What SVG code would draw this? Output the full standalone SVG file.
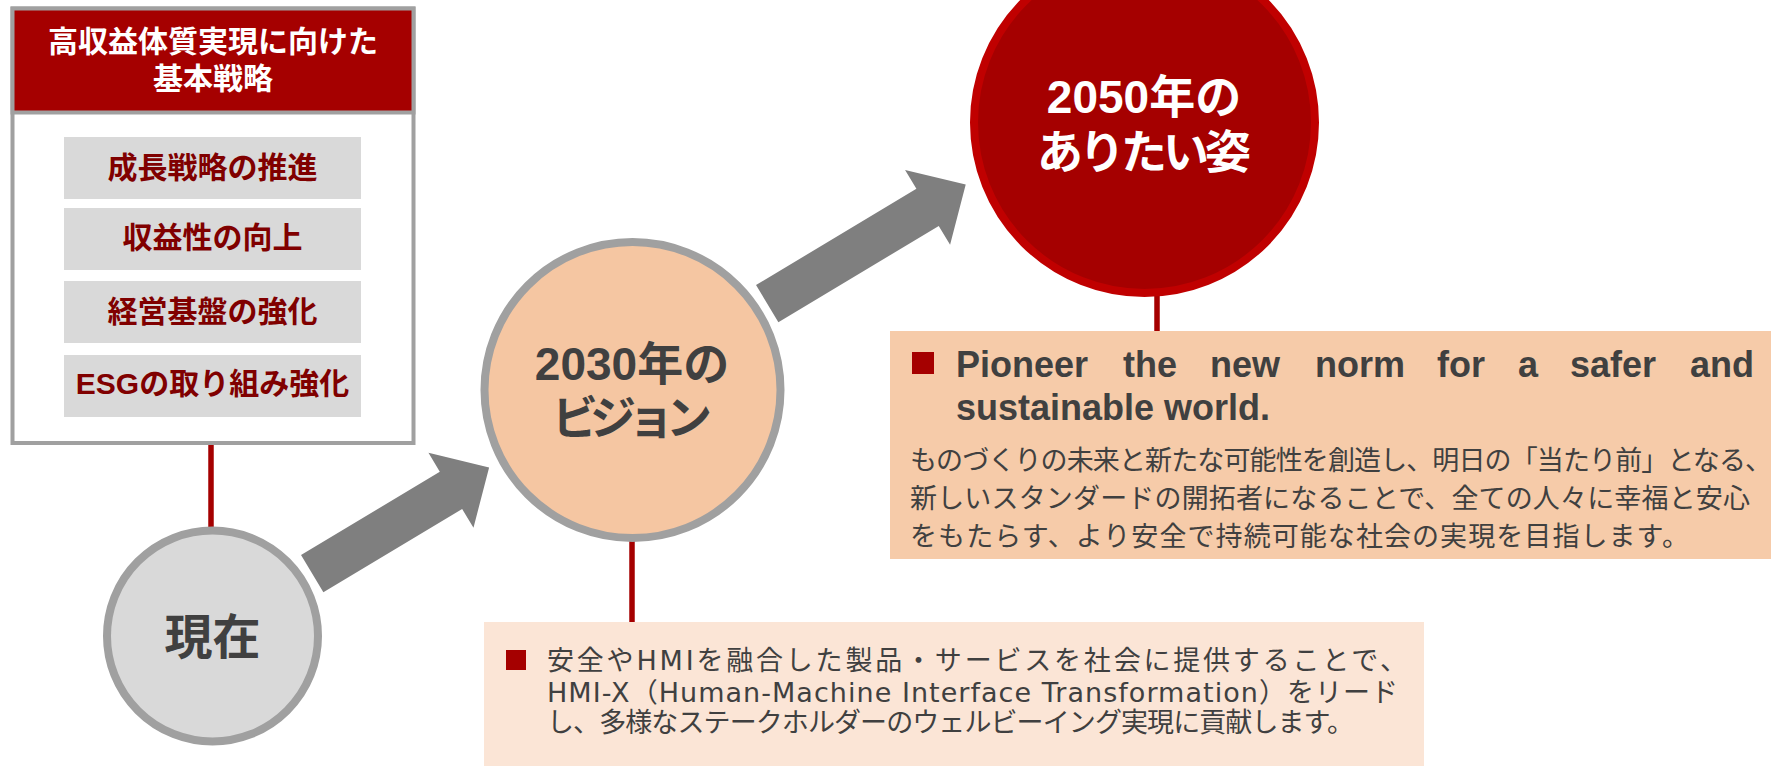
<svg xmlns="http://www.w3.org/2000/svg" width="1771" height="766" viewBox="0 0 1771 766">
<style>
text{font-family:"Liberation Sans","Noto Sans CJK JP",sans-serif;}
.b{font-weight:700;}
.dk{fill:#404040;}
.wh{fill:#ffffff;}
.strat{fill:#D9D9D9;}
.stxt{fill:#800000;font-size:30px;font-weight:700;text-anchor:middle;}
.red{stroke:#A50000;stroke-width:5.5;fill:none;}
.arr{fill:#7F7F7F;}
.bul{fill:#A50000;}
.body{font-size:27px;fill:#404040;}
.body2{font-family:"DejaVu Sans","Noto Sans CJK JP",sans-serif;font-size:27px;fill:#404040;}
</style>
<g id="connectors">
<line class="red" x1="211" y1="443" x2="211" y2="531"/>
<line class="red" x1="632" y1="538" x2="632" y2="623"/>
<line class="red" x1="1157" y1="292" x2="1157" y2="332"/>
<polygon class="arr" transform="translate(312.2,573.7) rotate(-31)" points="0,-21.7 161.9,-21.7 161.9,-43.7 206.4,0 161.9,43.7 161.9,21.7 0,21.7"/>
<polygon class="arr" transform="translate(767.2,303.7) rotate(-31)" points="0,-21.7 187.1,-21.7 187.1,-43.7 231.6,0 187.1,43.7 187.1,21.7 0,21.7"/>
</g>
<g id="strategy-box">
<rect x="12.5" y="8.5" width="401" height="434.5" fill="#ffffff" stroke="#A0A0A0" stroke-width="4"/>
<rect x="12.5" y="8.5" width="401" height="104" fill="#A50000" stroke="#A0A0A0" stroke-width="4"/>
<text class="b wh" x="213" y="52" font-size="30" text-anchor="middle">高収益体質実現に向けた</text>
<text class="b wh" x="213" y="89" font-size="30" text-anchor="middle">基本戦略</text>
<g id="strategy-1"><rect class="strat" x="64" y="137" width="297" height="62"/><text class="stxt" x="212.5" y="178">成長戦略の推進</text></g>
<g id="strategy-2"><rect class="strat" x="64" y="208" width="297" height="62"/><text class="stxt" x="212.5" y="248">収益性の向上</text></g>
<g id="strategy-3"><rect class="strat" x="64" y="281" width="297" height="62"/><text class="stxt" x="212.5" y="322">経営基盤の強化</text></g>
<g id="strategy-4"><rect class="strat" x="64" y="355" width="297" height="62"/><text class="stxt" x="212.5" y="394">ESGの取り組み強化</text></g>
</g>
<g id="now">
<circle cx="212.5" cy="636" r="105.5" fill="#D9D9D9" stroke="#A0A0A0" stroke-width="8"/>
<text class="b dk" x="212.5" y="654" font-size="48" text-anchor="middle">現在</text>
</g>
<g id="vision2030">
<circle cx="632.5" cy="390" r="148" fill="#F5C6A2" stroke="#A0A0A0" stroke-width="8"/>
<text class="b dk" x="632" y="380" font-size="46" text-anchor="middle">2030年の</text>
<text class="b dk" x="632" y="434" font-size="46" text-anchor="middle" textLength="160" lengthAdjust="spacing">ビジョン</text>
</g>
<g id="vision2050">
<circle cx="1144.5" cy="122.5" r="170.5" fill="#A50000" stroke="#C00000" stroke-width="8"/>
<text class="b wh" x="1144" y="113" font-size="46" text-anchor="middle">2050年の</text>
<text class="b wh" x="1144" y="168" font-size="46" text-anchor="middle" textLength="214" lengthAdjust="spacing">ありたい姿</text>
</g>
<g id="desc2050">
<rect x="890" y="331" width="881" height="228" fill="#F6CBA9"/>
<rect class="bul" x="912" y="352" width="22" height="22"/>
<text class="b dk" font-size="36" y="377"><tspan x="956">Pioneer</tspan><tspan x="1123">the</tspan><tspan x="1210">new</tspan><tspan x="1315">norm</tspan><tspan x="1437">for</tspan><tspan x="1518">a</tspan><tspan x="1570">safer</tspan><tspan x="1690">and</tspan></text>
<text class="b dk" font-size="36" x="956" y="420">sustainable world.</text>
<text class="body" x="910" y="470" textLength="862" lengthAdjust="spacing">ものづくりの未来と新たな可能性を創造し、明日の「当たり前」となる、</text>
<text class="body" x="910" y="508" textLength="840" lengthAdjust="spacing">新しいスタンダードの開拓者になることで、全ての人々に幸福と安心</text>
<text class="body" x="910" y="546" textLength="779" lengthAdjust="spacing">をもたらす、より安全で持続可能な社会の実現を目指します。</text>
</g>
<g id="desc2030">
<rect x="484" y="622" width="940" height="144" fill="#FBE5D6"/>
<rect class="bul" x="506" y="650" width="20" height="20"/>
<text class="body2" x="547" y="670" textLength="860" lengthAdjust="spacing">安全やHMIを融合した製品・サービスを社会に提供することで、</text>
<text class="body2" x="547" y="702" textLength="851" lengthAdjust="spacing">HMI-X（Human-Machine Interface Transformation）をリード</text>
<text class="body2" x="547" y="732" textLength="807" lengthAdjust="spacing">し、多様なステークホルダーのウェルビーイング実現に貢献します。</text>
</g>
</svg>
